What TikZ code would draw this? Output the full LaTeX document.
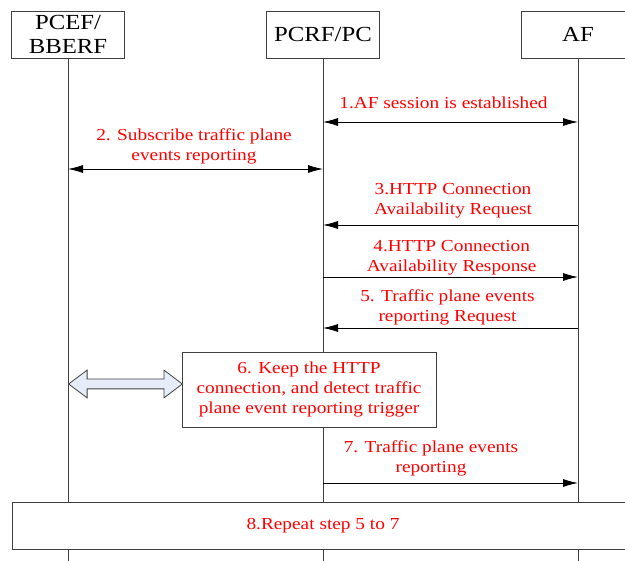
\documentclass[tikz,border=0pt]{standalone}
\usepackage{fontspec}
\setmainfont{Liberation Serif}[FakeStretch=1.15]
\usetikzlibrary{arrows.meta,shapes.arrows}
\definecolor{arrowfill}{HTML}{E6EDF8}
\tikzstyle{entity} = [rectangle, draw=black!75, line width=0.9pt, fill=white,
    minimum width=113pt, minimum height=47pt, align=center, inner sep=0pt,
    font=\fontsize{21.5}{24}\selectfont]
\tikzstyle{lifeline} = [draw=black!75, line width=0.8pt]
\tikzstyle{msg} = [text=red, align=center, inner sep=0pt,
    font=\fontsize{16.8}{20}\selectfont]
\tikzstyle{line} = [draw, line width=0.8pt, -{Latex[length=15pt,width=8pt]}]
\tikzstyle{both} = [draw, line width=0.8pt,
    {Latex[length=15pt,width=8pt]}-{Latex[length=15pt,width=8pt]}]
\tikzstyle{stepbox} = [rectangle, draw=black!75, line width=0.9pt, fill=white,
    text=red, align=center, inner sep=0pt, font=\fontsize{16.8}{20}\selectfont]
\tikzstyle{fat} = [double arrow, draw=black!75, line width=0.8pt, fill=arrowfill,
    minimum width=27pt, double arrow head extend=9pt, double arrow head indent=0pt,
    double arrow tip angle=74, inner xsep=0pt, inner ysep=4.5pt]

\begin{document}
\begin{tikzpicture}[x=1pt, y=-1pt]
    \useasboundingbox (0,0) rectangle (625,561);
    % Place nodes
    \node [entity] (pcef) at (68,34.5) {PCEF/\\BBERF};
    \node [entity] (pcrf) at (323,34.5) {PCRF/PC};
    \node [entity] (af) at (578,34.5) {AF};
    % Lifelines
    \foreach \e in {pcef,pcrf,af}
        \path [lifeline] (\e.south) -- (\e.south |- 0,561);
    \foreach \n/\y in {1/122, 2/169, 3/225, 4/277, 5/328, 7/483} {
        \coordinate (pcef\n) at (pcef.south |- 0,\y);
        \coordinate (pcrf\n) at (pcrf.south |- 0,\y);
        \coordinate (af\n) at (af.south |- 0,\y);
    }
    \node [msg, anchor=south] (l1) at (443.5,109) {1.AF session is established};
    \node [msg, anchor=south] (l2) at (194,164.6) {2. Subscribe traffic plane\\events reporting};
    \node [msg, anchor=south] (l3) at (453,218.6) {3.HTTP Connection\\Availability Request};
    \node [msg, anchor=south] (l4) at (451.7,275.6) {4.HTTP Connection\\Availability Response};
    \node [msg, anchor=south] (l5) at (447.5,325.6) {5. Traffic plane events\\reporting Request};
    \node [stepbox, minimum width=254pt, minimum height=75pt] (keep) at (309,389.5)
        {6. Keep the HTTP\\connection, and detect traffic\\plane event reporting trigger};
    \node [fat, anchor=west, minimum height=113.7pt] (fat6) at (pcef.south |- 0,384) {};
    \node [msg, anchor=south] (l7) at (431,476.6) {7. Traffic plane events\\reporting};
    \node [stepbox, minimum width=622pt, minimum height=47pt] (repeat) at (323,525.5)
        {8.Repeat step 5 to 7};
    % Draw edges
    \path [both] (pcrf1) -- (af1);
    \path [both] (pcef2) -- (pcrf2);
    \path [line] (af3) -- (pcrf3);
    \path [line] (pcrf4) -- (af4);
    \path [line] (af5) -- (pcrf5);
    \path [line] (pcrf7) -- (af7);
\end{tikzpicture}
\end{document}
